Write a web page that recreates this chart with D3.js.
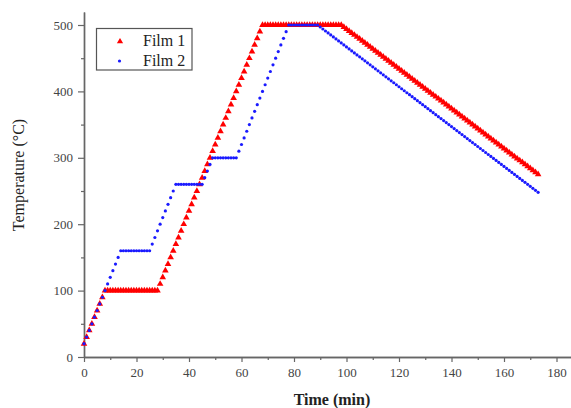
<!DOCTYPE html>
<html>
<head>
<meta charset="utf-8">
<script src="https://cdn.jsdelivr.net/npm/d3@7"></script>
<style>
html,body{margin:0;padding:0;background:#fff;}
svg{display:block;}
text{font-family:"Liberation Serif","Times New Roman",serif;}
</style>
</head>
<body>
<svg id="chart" width="571" height="408"></svg>
<script>
// Temperature (°C) sampled once per minute, starting at t = 0 min
const film1 = [
20,30,40,50,60,70,80,90,100,
100,100,100,100,100,100,100,100,100,100,100,100,100,100,100,100,100,100,100,100,
110,120,130,140,150,160,170,180,190,200,210,220,230,240,250,260,270,280,290,300,
310,320,330,340,350,360,370,380,390,400,410,420,430,440,450,460,470,480,490,500,
500,500,500,500,500,500,500,500,500,500,500,500,500,500,500,500,500,500,500,500,
500,500,500,500,500,500,500,500,500,500,
497,494,491,488,485,482,479,476,473,470,467,464,461,458,455,452,449,446,443,440,
437,434,431,428,425,422,419,416,413,410,407,404,401,398,395,392,389,386,383,380,
377,374,371,368,365,362,359,356,353,350,347,344,341,338,335,332,329,326,323,320,
317,314,311,308,305,302,299,296,293,290,287,284,281,278,275
];
const film2 = [
20,30,40,50,60,70,80,90,100,110,120,130,140,150,160,
160,160,160,160,160,160,160,160,160,160,160,
170,180,190,200,210,220,230,240,250,260,
260,260,260,260,260,260,260,260,260,260,
270,280,290,300,
300,300,300,300,300,300,300,300,300,
310,320,330,340,350,360,370,380,390,400,410,420,430,440,450,460,470,480,490,500,
500,500,500,500,500,500,500,500,500,500,500,
497,494,491,488,485,482,479,476,473,470,467,464,461,458,455,452,449,446,443,440,
437,434,431,428,425,422,419,416,413,410,407,404,401,398,395,392,389,386,383,380,
377,374,371,368,365,362,359,356,353,350,347,344,341,338,335,332,329,326,323,320,
317,314,311,308,305,302,299,296,293,290,287,284,281,278,275,272,269,266,263,260,
257,254,251,248
];
const xMajorTicks = [0,20,40,60,80,100,120,140,160,180];
const xMinorTicks = [10,30,50,70,90,110,130,150,170];
const yMajorTicks = [0,100,200,300,400,500];
const yMinorTicks = [50,150,250,350,450];
const seriesNames = ["Film 1","Film 2"];
const xTitle = "Time (min)";
const yTitle = "Temperature (°C)";

const svg = d3.select("#chart");
const x = d3.scaleLinear().domain([0,186]).range([84, 84+186*2.625]);
const y = d3.scaleLinear().domain([0,519.5]).range([357, 357-519.5*0.664]);
const axisColor = "#666";
const serif = "'Liberation Serif','Times New Roman',serif";

function styleAxis(g){
  g.attr("font-family", serif).attr("font-size", 13);
  g.select(".domain").attr("stroke",axisColor).attr("stroke-width",1.4);
  g.selectAll(".tick line").attr("stroke",axisColor).attr("stroke-width",1.2);
  g.selectAll(".tick text").attr("fill","#444").attr("font-family", serif)
    .style("font-family", serif).style("font-size","13px");
}

// x axis
svg.append("g").attr("transform","translate(0,357)")
  .call(d3.axisBottom(x).tickValues(xMinorTicks).tickSize(3).tickFormat("").tickSizeOuter(0))
  .call(styleAxis);
svg.append("g").attr("transform","translate(0,357)")
  .call(d3.axisBottom(x).tickValues(xMajorTicks).tickSize(5).tickPadding(6).tickSizeOuter(0))
  .call(styleAxis);
// y axis
svg.append("g").attr("transform","translate(84,0)")
  .call(d3.axisLeft(y).tickValues(yMinorTicks).tickSize(3).tickFormat("").tickSizeOuter(0))
  .call(styleAxis);
svg.append("g").attr("transform","translate(84,0)")
  .call(d3.axisLeft(y).tickValues(yMajorTicks).tickSize(6).tickPadding(5).tickSizeOuter(0))
  .call(styleAxis);

// series
const tri = d3.symbol().type(d3.symbolTriangle).size(19);
svg.append("g").selectAll("path").data(film1).join("path")
  .attr("d", tri)
  .attr("transform",(d,i)=>`translate(${x(i)},${y(d)})`)
  .attr("fill","#ff0000");
svg.append("g").selectAll("circle").data(film2).join("circle")
  .attr("cx",(d,i)=>x(i)).attr("cy",d=>y(d)).attr("r",1.6)
  .attr("fill","#1a1aff");

// axis titles
svg.append("text").attr("x",332).attr("y",405).attr("text-anchor","middle")
  .style("font-size","16px").style("font-weight","bold").attr("fill","#222").text(xTitle);
svg.append("text").attr("transform","translate(24,175) rotate(-90)").attr("text-anchor","middle")
  .style("font-size","16px").attr("fill","#222").text(yTitle);

// legend
const lg = svg.append("g");
lg.append("rect").attr("x",96.5).attr("y",28.5).attr("width",95.5).attr("height",41.5)
  .attr("fill","#fff").attr("stroke","#555").attr("stroke-width",1.2);
lg.append("path").attr("d", d3.symbol().type(d3.symbolTriangle).size(17)())
  .attr("transform","translate(120,41.5)").attr("fill","#ff0000");
lg.append("circle").attr("cx",119.5).attr("cy",61).attr("r",1.6).attr("fill","#1a1aff");
lg.selectAll("text.lt").data(seriesNames).join("text").attr("class","lt")
  .attr("x",143).attr("y",(d,i)=>46+i*20).style("font-size","16px").attr("fill","#222").text(d=>d);
</script>
</body>
</html>
